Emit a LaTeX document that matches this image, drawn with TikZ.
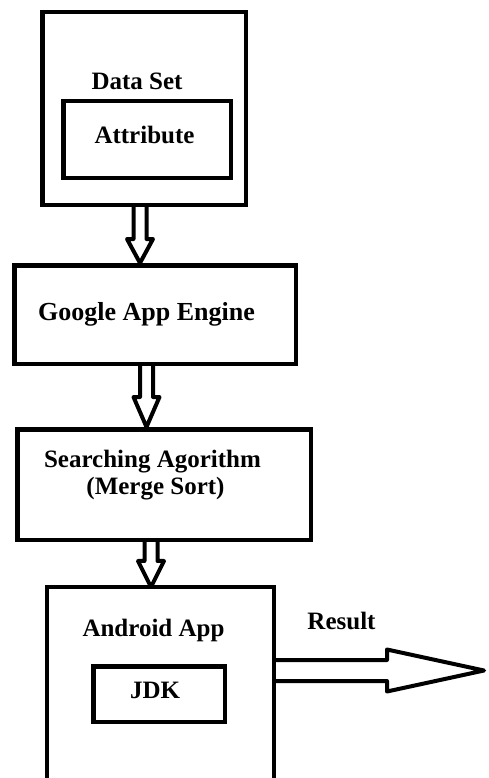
\documentclass[tikz,border=0pt]{standalone}
\usepackage{fontspec}
\setmainfont{Liberation Serif}
\usepackage{tikz}

\newcommand{\hollowdown}[4]{% axis, upper box, lower box, head length
  \draw[hollow] ([xshift=-6.5]#1 |- #2.south) -- ([xshift=-6.5,yshift=#4]#1 |- #3.north)
    -- ([xshift=-13,yshift=#4]#1 |- #3.north) -- (#1 |- #3.north)
    -- ([xshift=13,yshift=#4]#1 |- #3.north) -- ([xshift=6.5,yshift=#4]#1 |- #3.north)
    -- ([xshift=6.5]#1 |- #2.south);}

\begin{document}
\begin{tikzpicture}[x=1pt,y=-1pt,
  box/.style={draw,line width=4.5pt,inner sep=0pt},
  hollow/.style={draw,line width=4pt,line join=round},
  lbl/.style={anchor=base,inner sep=0pt,font=\fontsize{25}{27}\selectfont\bfseries}]
\useasboundingbox (0,0) rectangle (488,778);
% boxes
\node[box,minimum width=203.5,minimum height=192.5] (dataset) at (144,108.5) {};
\node[box,minimum width=167.5,minimum height=76.5] (attr) at (147,139.5) {};
\node[box,minimum width=281.5,minimum height=98.5] (gae) at (155,314.5) {};
\node[box,minimum width=293.5,minimum height=110.5] (search) at (164,484.5) {};
\node[inner sep=0pt,outer sep=2.25pt,minimum width=222.5,minimum height=188.75] (android) at (160.5,683.6) {};
\draw[line width=4.5pt] (android.south west) -- (android.north west) -- (android.north east) -- (android.south east);
\node[box,minimum width=131.5,minimum height=55.5] (jdk) at (159,694) {};
% labels
\node[lbl] (datasettxt) at (137,90) {Data Set};
\node[lbl] (attrtxt) at (144.5,144) {Attribute};
\node[lbl,font=\fontsize{26}{28}\selectfont\bfseries] (gaetxt) at (146.5,320) {Google App Engine};
\node[lbl] (searchtxt) at (152.5,467) {Searching Agorithm};
\node[lbl] (mergetxt) at (155.5,494) {(Merge Sort)};
\node[lbl] (androidtxt) at (153.5,636) {Android App};
\node[lbl] (jdktxt) at (155,698) {JDK};
\node[lbl] (resulttxt) at (341.5,629) {Result};
% block arrows
\coordinate (a1) at (140,0);
\coordinate (a2) at (146.5,0);
\coordinate (a3) at (151,0);
\coordinate (res) at (484,670.5);
\hollowdown{a1}{dataset}{gae}{24}
\hollowdown{a2}{gae}{search}{30}
\hollowdown{a3}{search}{android}{26}
\draw[hollow] ([yshift=10.5]android.east |- res) -- ++(113,0) -- ++(0,-10.5) -- (res)
  -- ++(-97,21) -- ++(0,-10.5) -- ([yshift=-10.5]android.east |- res);
\end{tikzpicture}
\end{document}
